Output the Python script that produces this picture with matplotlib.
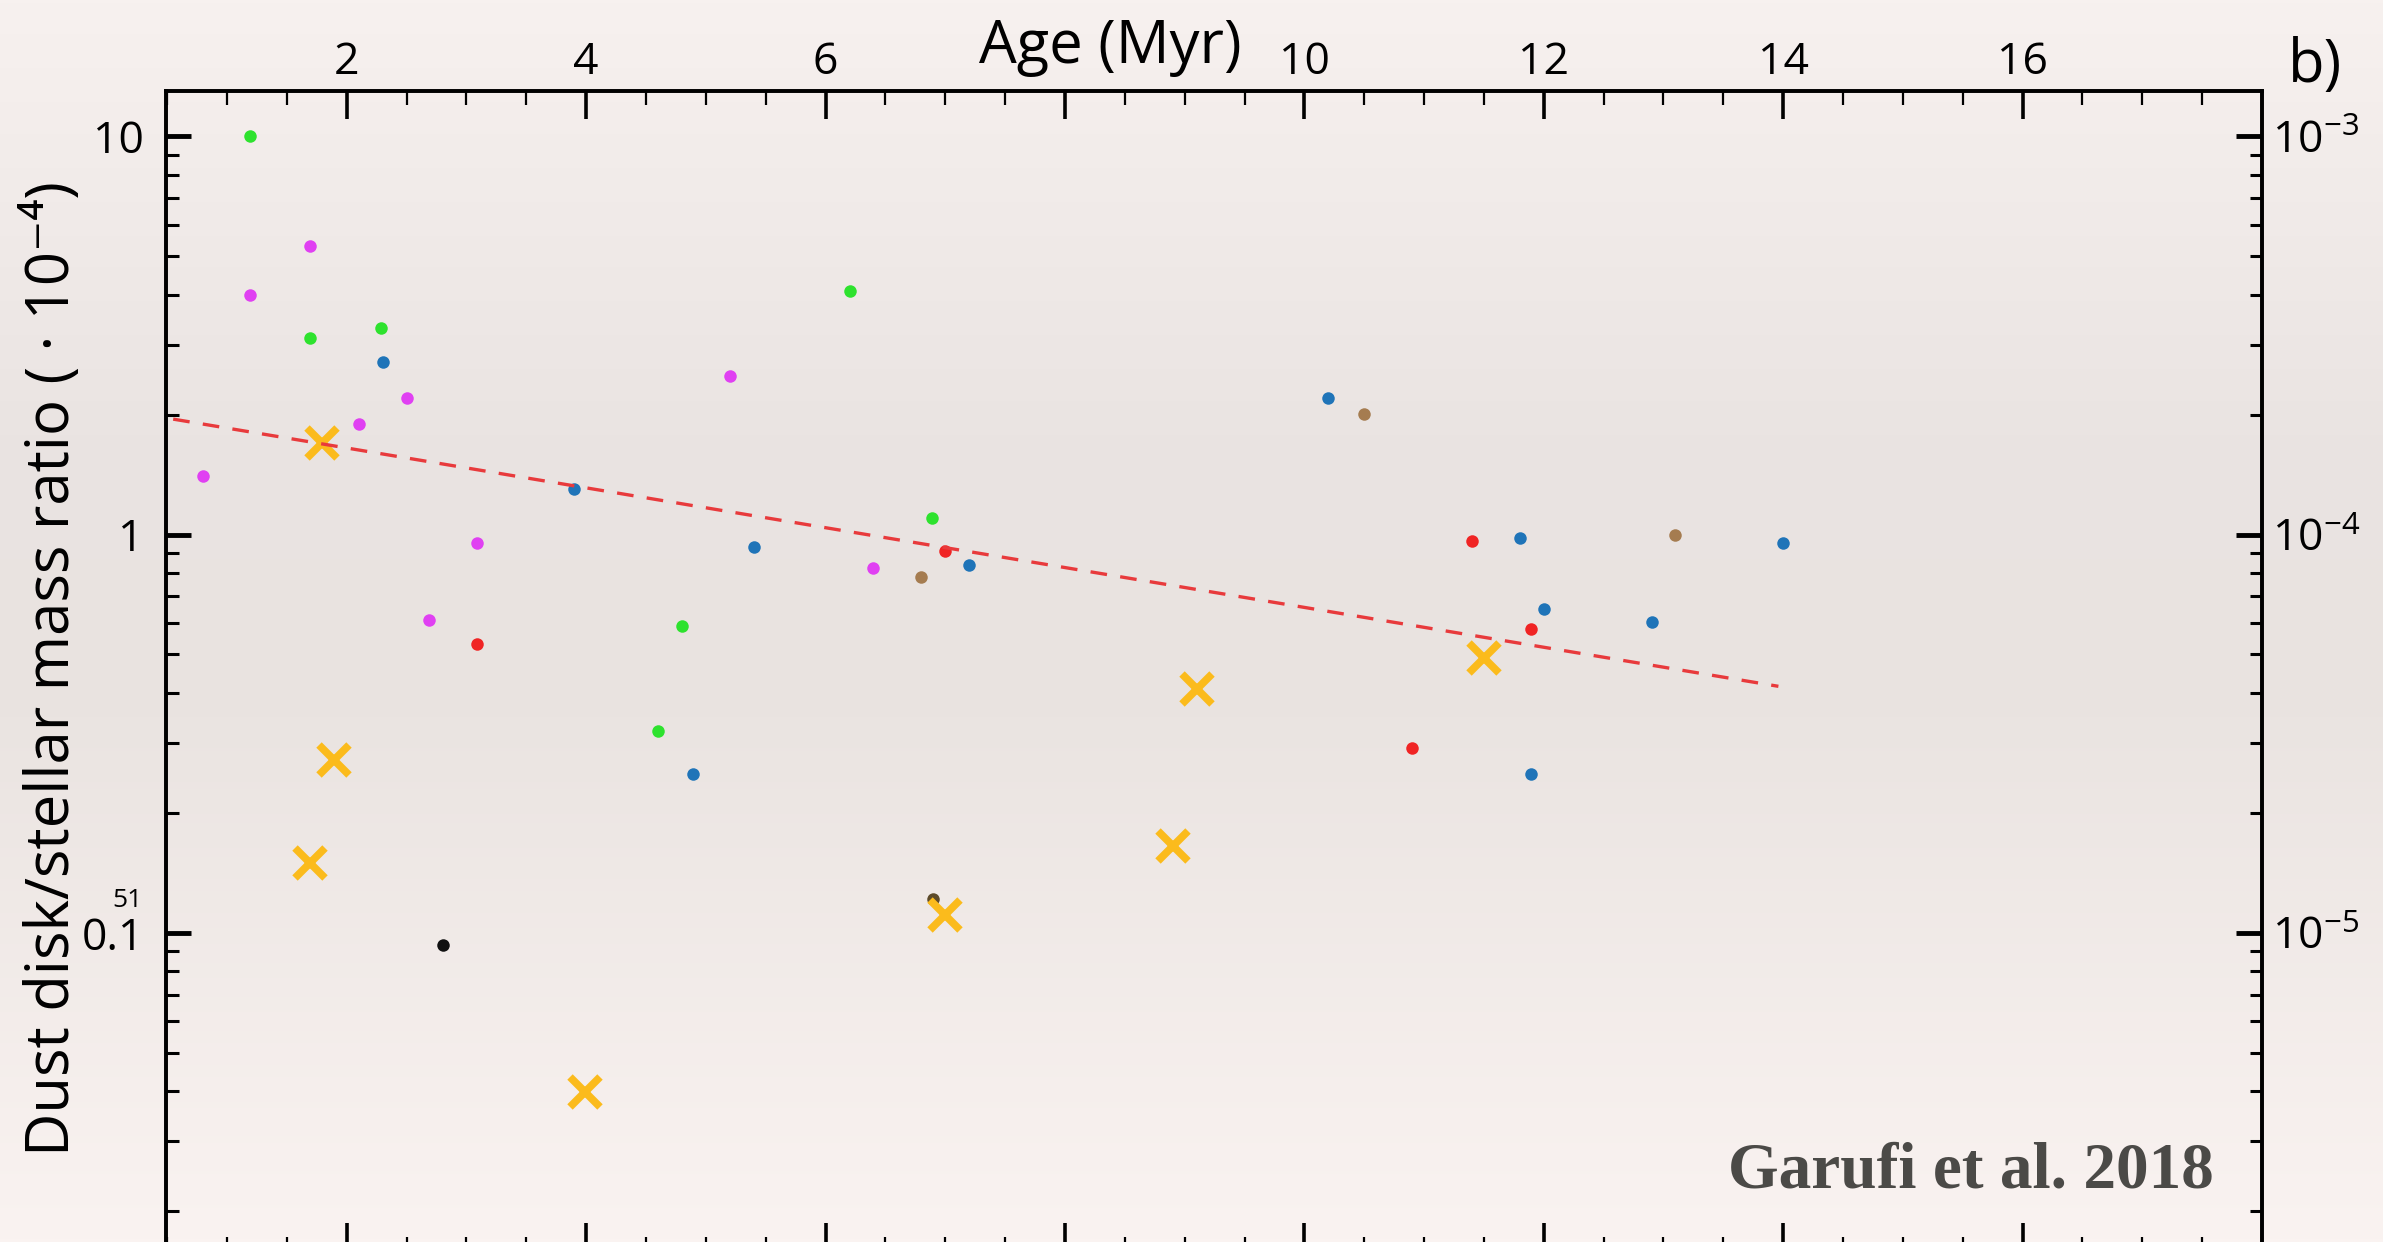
import numpy as np
import matplotlib
matplotlib.use('Agg')
import matplotlib.pyplot as plt
from matplotlib import font_manager
from matplotlib.ticker import MultipleLocator, FixedLocator, FixedFormatter, LogLocator, NullFormatter

# ages (Myr) and dust disk / stellar mass ratio (units of 1e-4)
green_age = [1.19, 1.69, 2.29, 4.80, 4.60, 6.20, 6.89]
green_ratio = [10.0, 3.11, 3.30, 0.591, 0.321, 4.10, 1.10]

magenta_age = [1.69, 1.19, 5.20, 2.50, 2.10, 0.80, 3.09, 2.69, 6.40]
magenta_ratio = [5.3, 4.0, 2.50, 2.20, 1.90, 1.40, 0.953, 0.611, 0.825]

blue_age = [2.30, 3.90, 5.40, 4.89, 7.20, 11.80, 12.00, 11.89, 10.20, 14.00, 12.90]
blue_ratio = [2.71, 1.30, 0.93, 0.251, 0.84, 0.983, 0.652, 0.251, 2.20, 0.95, 0.602]

red_age = [3.09, 7.00, 11.40, 11.89, 10.90]
red_ratio = [0.531, 0.912, 0.962, 0.580, 0.291]

brown_age = [6.80, 10.50, 13.10]
brown_ratio = [0.783, 2.01, 1.00]

dark_age = [6.90]
dark_ratio = [0.1216]

black_age = [2.80]
black_ratio = [0.0933]

cross_age = [1.79, 1.89, 1.69, 3.99, 9.10, 11.50, 8.90, 7.00]
cross_ratio = [1.70, 0.272, 0.150, 0.0399, 0.409, 0.490, 0.165, 0.111]

trend_age = [0.55, 13.96]
trend_ratio = [1.95, 0.416]

top_ticks = [2, 4, 6, 8, 10, 12, 14, 16]
top_labels = ['2', '4', '6', '', '10', '12', '14', '16']
left_ticks = [0.1, 1, 10]
left_labels = ['0.1', '1', '10']

installed = {f.name for f in font_manager.fontManager.ttflist}
tick_font = 'Liberation Sans Narrow' if 'Liberation Sans Narrow' in installed else 'Open Sans'

plt.rcParams['font.family'] = ['Open Sans', 'DejaVu Sans']
plt.rcParams['mathtext.fontset'] = 'custom'
plt.rcParams['mathtext.rm'] = tick_font
plt.rcParams['mathtext.default'] = 'regular'

W, H = 2383, 1242
fig = plt.figure(figsize=(W / 100, H / 100), dpi=100)

#%% background gradient
bg = fig.add_axes([0, 0, 1, 1], zorder=-10)
stops_y = [0.0, 0.35, 0.55, 1.0]
stops_c = np.array([[247, 241, 239], [234, 228, 226], [233, 227, 224], [250, 243, 241]]) / 255.0
yy = np.linspace(0, 1, 400)
grad = np.stack([np.interp(yy, stops_y, stops_c[:, k]) for k in range(3)], axis=-1)
bg.imshow(grad[:, None, :], aspect='auto', extent=[0, 1, 1, 0])
bg.set_xlim(0, 1)
bg.set_ylim(1, 0)
bg.axis('off')

#%% main axes
left, right, top, bottom = 166, 2262, 91, 1251
ax = fig.add_axes([left / W, 1 - bottom / H, (right - left) / W, (bottom - top) / H])
ax.set_facecolor('none')

ms = 9
ax.plot(green_age, green_ratio, 'o', color='#2ee22e', ms=ms, mec='none', zorder=3)
ax.plot(magenta_age, magenta_ratio, 'o', color='#e040f2', ms=ms, mec='none', zorder=3)
ax.plot(blue_age, blue_ratio, 'o', color='#1f74b8', ms=ms, mec='none', zorder=3)
ax.plot(red_age, red_ratio, 'o', color='#f02424', ms=ms, mec='none', zorder=3)
ax.plot(brown_age, brown_ratio, 'o', color='#a57c50', ms=ms, mec='none', zorder=3)
ax.plot(dark_age, dark_ratio, 'o', color='#5c4a2a', ms=ms, mec='none', zorder=3)
ax.plot(black_age, black_ratio, 'o', color='#111111', ms=ms, mec='none', zorder=3)
ax.plot(cross_age, cross_ratio, 'x', color='#fbbb1c', ms=22, mew=5.5, zorder=4)
ax.plot(trend_age, trend_ratio, '--', color='#e83a3c', lw=2.4, dashes=(5, 4), zorder=5)

ax.set_yscale('log')
ax.set_xlim(0.49, 18.0)
ylo, yhi = 0.01589, 13.0
ax.set_ylim(ylo, yhi)

ax.xaxis.set_major_locator(FixedLocator(top_ticks))
ax.xaxis.set_major_formatter(FixedFormatter(top_labels))
ax.xaxis.set_minor_locator(MultipleLocator(0.5))
ax.yaxis.set_major_locator(FixedLocator(left_ticks))
ax.yaxis.set_major_formatter(FixedFormatter(left_labels))
ax.yaxis.set_minor_locator(LogLocator(base=10, subs=np.arange(2, 10)))
ax.yaxis.set_minor_formatter(NullFormatter())

ax.tick_params(axis='x', which='both', direction='in', top=True, bottom=True,
               labeltop=True, labelbottom=False)
ax.tick_params(axis='x', which='major', length=20, width=2.6, labelsize=32, pad=4)
ax.tick_params(axis='x', which='minor', length=10, width=1.6)
ax.tick_params(axis='y', which='both', direction='in', left=True, right=False)
ax.tick_params(axis='y', which='major', length=18, width=3.5, labelsize=32, pad=16)
ax.tick_params(axis='y', which='minor', length=9, width=2.2)
for lab in ax.get_xticklabels() + ax.get_yticklabels():
    lab.set_family(tick_font)

for s in ax.spines.values():
    s.set_linewidth(2.6)

#%% right axis in absolute mass ratio
ax2 = ax.twinx()
ax2.set_yscale('log')
ax2.set_ylim(ylo * 1e-4, yhi * 1e-4)
ax2.yaxis.set_major_locator(FixedLocator([1e-5, 1e-4, 1e-3]))
ax2.yaxis.set_major_formatter(FixedFormatter([r'$10^{-5}$', r'$10^{-4}$', r'$10^{-3}$']))
ax2.yaxis.set_minor_locator(LogLocator(base=10, subs=np.arange(2, 10)))
ax2.yaxis.set_minor_formatter(NullFormatter())
ax2.tick_params(axis='y', which='both', direction='in', right=True, left=False)
ax2.tick_params(axis='y', which='major', length=19, width=3.5, labelsize=32, pad=7)
ax2.tick_params(axis='y', which='minor', length=9, width=2.2)
for s in ax2.spines.values():
    s.set_linewidth(2.6)

#%% texts
fig.text(1110 / W, 1 - 63 / H, 'Age (Myr)', ha='center', va='baseline', fontsize=43)
fig.text(2288 / W, 1 - 82 / H, 'b)', ha='left', va='baseline', fontsize=43)
fig.text(53 / W, 1 - 669 / H, 'Dust disk/stellar mass ratio ( · 10⁻⁴)',
         rotation=90, ha='center', va='center', fontsize=43)
fig.text(143 / W, 1 - 907 / H, '51', ha='right', va='baseline', fontsize=19, family=tick_font)
fig.text(2214 / W, 1 - 1188 / H, 'Garufi et al. 2018', ha='right', va='baseline',
         fontsize=47, fontweight='bold', family=['Liberation Serif', 'DejaVu Serif'],
         color='#4b4a47')

plt.savefig('out.png', dpi=100)
